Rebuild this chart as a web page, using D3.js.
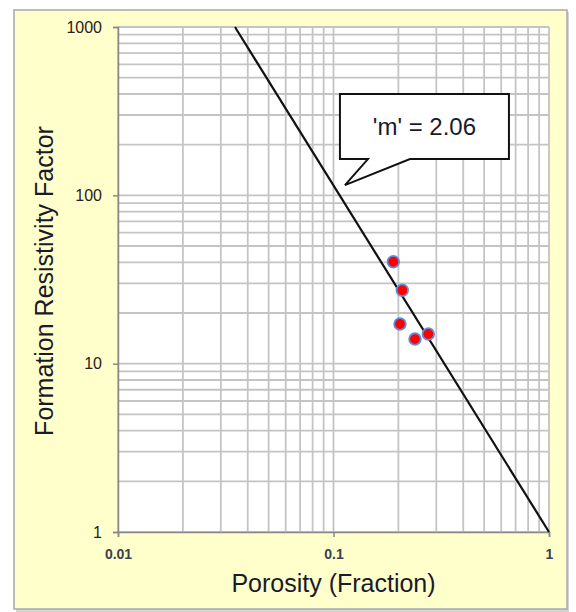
<!DOCTYPE html>
<html>
<head>
<meta charset="utf-8">
<script src="https://cdn.jsdelivr.net/npm/d3@7"></script>
<style>
  body { margin: 0; background: #fff; }
  text { font-family: Arial, "Liberation Sans", sans-serif; }
</style>
</head>
<body>
<div id="chart"></div>
<script>
// measured core samples
var porosity = [0.1895, 0.2085, 0.2035, 0.2388, 0.2754];
var formationFactor = [40.3, 27.3, 17.2, 14.0, 15.0];

// fitted line F = a / phi^m (end points)
var lineX = [0.0349, 1];
var lineY = [1000, 1];
var calloutText = "'m' = 2.06";

var xTicks = [0.01, 0.1, 1];
var xTickLabels = ["0.01", "0.1", "1"];
var yTicks = [1, 10, 100, 1000];
var yTickLabels = ["1", "10", "100", "1000"];

var W = 576, H = 612;
var margin = { top: 27, right: 27, bottom: 80, left: 118 };
var width = W - margin.left - margin.right,
    height = H - margin.top - margin.bottom;

var svg = d3.select("#chart").append("svg")
  .attr("width", W)
  .attr("height", H);

// chart area background with shadow
svg.append("rect")
  .attr("x", 16).attr("y", 12)
  .attr("width", 553).attr("height", 600)
  .attr("fill", "#d4d4d4");
svg.append("rect")
  .attr("x", 14).attr("y", 10)
  .attr("width", 553).attr("height", 599)
  .attr("fill", "#ffffcc")
  .attr("stroke", "#a8a8a8")
  .attr("stroke-width", 1.5);

var g = svg.append("g")
  .attr("transform", "translate(" + margin.left + "," + margin.top + ")");

var x = d3.scaleLog().domain([0.01, 1]).range([0, width]);
var y = d3.scaleLog().domain([1, 1000]).range([height, 0]);

g.append("rect")
  .attr("width", width).attr("height", height)
  .attr("fill", "#fff");

// grid lines, major and minor
var xGrid = [], yGrid = [];
[0.01, 0.1].forEach(function(d) {
  for (var k = 1; k <= 9; k++) xGrid.push(d * k);
});
xGrid.push(1);
[1, 10, 100].forEach(function(d) {
  for (var k = 1; k <= 9; k++) yGrid.push(d * k);
});
yGrid.push(1000);

g.selectAll(".vgrid")
  .data(xGrid)
  .enter()
  .append("line")
  .attr("class", "vgrid")
  .attr("x1", function(d) { return x(d); })
  .attr("x2", function(d) { return x(d); })
  .attr("y1", 0).attr("y2", height)
  .attr("stroke", "#c4c4c4")
  .attr("stroke-width", 1.8);

g.selectAll(".hgrid")
  .data(yGrid)
  .enter()
  .append("line")
  .attr("class", "hgrid")
  .attr("y1", function(d) { return y(d); })
  .attr("y2", function(d) { return y(d); })
  .attr("x1", 0).attr("x2", width)
  .attr("stroke", "#c4c4c4")
  .attr("stroke-width", 1.8);

// axes
var yAxis = g.append("g")
  .call(d3.axisLeft(y).tickValues(yTicks)
    .tickFormat(function(d, i) { return yTickLabels[i]; })
    .tickSize(5).tickPadding(11));
yAxis.select(".domain").attr("stroke", "#888").attr("stroke-width", 1.5);
yAxis.selectAll(".tick line").attr("stroke", "#888").attr("stroke-width", 1.5);
yAxis.selectAll(".tick text")
  .attr("font-size", 16)
  .attr("fill", "#2a2020")
  .attr("font-family", "Arial, 'Liberation Sans', sans-serif");

var xAxis = g.append("g")
  .attr("transform", "translate(0," + height + ")")
  .call(d3.axisBottom(x).tickValues(xTicks)
    .tickFormat(function(d, i) { return xTickLabels[i]; })
    .tickSize(5).tickPadding(12));
xAxis.select(".domain").attr("stroke", "#888").attr("stroke-width", 1.5);
xAxis.selectAll(".tick line").attr("stroke", "#888").attr("stroke-width", 1.5);
xAxis.selectAll(".tick text")
  .attr("font-size", 14)
  .attr("font-weight", "bold")
  .attr("fill", "#3a4050")
  .attr("font-family", "Arial, 'Liberation Sans', sans-serif");

// fitted line
g.append("line")
  .attr("x1", x(lineX[0])).attr("y1", y(lineY[0]))
  .attr("x2", x(lineX[1])).attr("y2", y(lineY[1]))
  .attr("stroke", "#111")
  .attr("stroke-width", 2.2);

// data points
g.selectAll(".pt")
  .data(porosity)
  .enter()
  .append("circle")
  .attr("class", "pt")
  .attr("cx", function(d) { return x(d); })
  .attr("cy", function(d, i) { return y(formationFactor[i]); })
  .attr("r", 5.8)
  .attr("fill", "#ff0000")
  .attr("stroke", "#5b8fe0")
  .attr("stroke-width", 1.8);

// callout pointing at the line
var tipX = x(0.113), tipY = y(115);
var bx0 = tipX - 5, bx1 = tipX + 164, by0 = tipY - 91, by1 = tipY - 26;
var callout = d3.path();
callout.moveTo(bx0, by0);
callout.lineTo(bx1, by0);
callout.lineTo(bx1, by1);
callout.lineTo(tipX + 65, by1);
callout.lineTo(tipX, tipY);
callout.lineTo(tipX + 23, by1);
callout.lineTo(bx0, by1);
callout.closePath();

g.append("path")
  .attr("d", callout.toString())
  .attr("fill", "#fff")
  .attr("stroke", "#111")
  .attr("stroke-width", 2)
  .attr("stroke-linejoin", "miter");

g.append("text")
  .attr("x", (bx0 + bx1) / 2)
  .attr("y", by0 + 41)
  .attr("text-anchor", "middle")
  .attr("font-size", 24)
  .attr("fill", "#1a1a2a")
  .text(calloutText);

// axis titles
svg.append("text")
  .attr("x", margin.left + width / 2)
  .attr("y", 592)
  .attr("text-anchor", "middle")
  .attr("font-size", 25)
  .attr("fill", "#1a1a2a")
  .text("Porosity (Fraction)");

svg.append("text")
  .attr("transform", "translate(53," + 281 + ") rotate(-90)")
  .attr("text-anchor", "middle")
  .attr("font-size", 25)
  .attr("fill", "#1a1a2a")
  .text("Formation Resistivity Factor");
</script>
</body>
</html>
